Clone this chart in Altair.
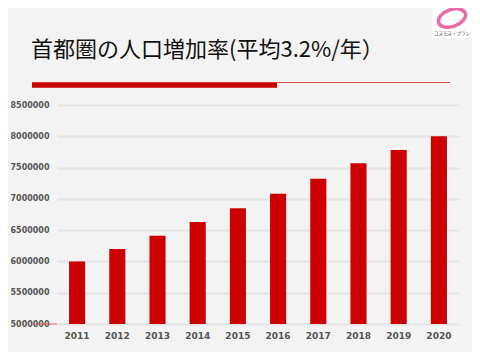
import altair as alt
import pandas as pd

years = ["2011", "2012", "2013", "2014", "2015", "2016", "2017", "2018", "2019", "2020"]
population = [6000000, 6200000, 6410000, 6630000, 6850000, 7080000, 7320000, 7570000, 7780000, 8000000]
y_ticks = [5000000, 5500000, 6000000, 6500000, 7000000, 7500000, 8000000, 8500000]
title_text = "首都圏の人口増加率(平均3.2%/年）"
logo_text = "コスモス・プラン"

df = pd.DataFrame({"year": years, "pop": population})
df["base"] = 5000000
one = pd.DataFrame({"a": [0]})

W, H = 402, 219

bars = alt.Chart(df).mark_bar(color="#cc0000").encode(
    x=alt.X("year:N", sort=years,
            scale=alt.Scale(paddingInner=0.6, paddingOuter=0.3),
            axis=alt.Axis(title=None, labelAngle=0, domain=False, ticks=False, tickSize=0,
                          labelPadding=7, labelFont="DejaVu Sans", labelFontWeight="bold",
                          labelFontSize=9, labelColor="#555555")),
    y=alt.Y("pop:Q", scale=alt.Scale(domain=[5000000, 8500000], nice=False, zero=False),
            axis=alt.Axis(title=None, values=y_ticks, format="d", domain=False, ticks=False,
                          tickSize=0, labelAlign="left", labelPadding=47,
                          labelFont="DejaVu Sans", labelFontWeight="bold", labelFontSize=8,
                          labelColor="#555555", gridColor="#e4e4e4", gridWidth=2)),
    y2="base:Q",
)

base_tick = alt.Chart(one).mark_rule(color="#e05a5a", strokeWidth=1).encode(
    x=alt.value(-24), x2=alt.value(0), y=alt.value(H)
)
thick_bar = alt.Chart(one).mark_rule(color="#cc0000", strokeWidth=5.5).encode(
    x=alt.value(-25), x2=alt.value(220), y=alt.value(-20)
)
thin_line = alt.Chart(one).mark_rule(color="#d9534f", strokeWidth=1).encode(
    x=alt.value(220), x2=alt.value(393), y=alt.value(-22.5)
)
title = alt.Chart(one).mark_text(align="left", baseline="middle", fontSize=22,
                                 font="Noto Sans CJK JP", color="#111111").encode(
    x=alt.value(-26), y=alt.value(-55), text=alt.value(title_text)
)
logo_box = alt.Chart(one).mark_rect(color="white").encode(
    x=alt.value(375), x2=alt.value(415), y=alt.value(-100), y2=alt.value(-67)
)
ring = alt.Chart(one).mark_point(
    shape="M -1 0 A 1 0.6 0 1 1 1 0 A 1 0.6 0 1 1 -1 0 Z",
    filled=False, stroke="#e85a9c", strokeWidth=3.5, angle=340, size=800, opacity=0.9
).encode(x=alt.value(395), y=alt.value(-87))
logo_label = alt.Chart(one).mark_text(fontSize=4.5, font="Noto Sans CJK JP", color="#333333").encode(
    x=alt.value(395), y=alt.value(-71), text=alt.value(logo_text)
)

chart = alt.layer(bars, base_tick, thick_bar, thin_line, title, logo_box, ring, logo_label).properties(
    width=W, height=H,
    autosize=alt.AutoSizeParams(type="none"),
    padding={"left": 49, "top": 97, "right": 13, "bottom": 28},
    background="#f3f3f3",
).configure_view(stroke=None)

chart.save("out.html", embed_options={"renderer": "svg", "actions": False})
